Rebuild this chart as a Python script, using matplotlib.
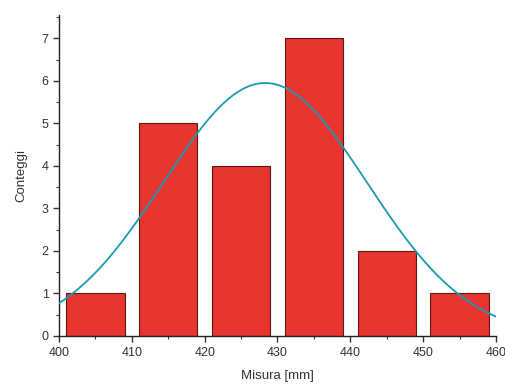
import numpy as np
import matplotlib.pyplot as plt
from matplotlib.ticker import MultipleLocator

plt.rcParams['font.family'] = ['Liberation Sans', 'DejaVu Sans']

# histogram data
bin_centers = [405, 415, 425, 435, 445, 455]
counts = [1, 5, 4, 7, 2, 1]

# gaussian fit parameters
fit_amp = 5.95
fit_mu = 428.3
fit_sigma = 14.0

fig = plt.figure(figsize=(5.05, 3.84), dpi=100)
ax = fig.add_axes([0.117, 0.125, 0.865, 0.836])

ax.bar(bin_centers, counts, width=8, color='#e8352f', edgecolor='#5a1a14', linewidth=0.8, zorder=2)

xs = np.linspace(400, 460, 300)
ys = fit_amp * np.exp(-(xs - fit_mu) ** 2 / (2 * fit_sigma ** 2))
ax.plot(xs, ys, color='#1a9bb0', linewidth=1.3, zorder=3)

ax.set_xlim(400, 460)
ax.set_ylim(0, 7.55)
ax.xaxis.set_major_locator(MultipleLocator(10))
ax.xaxis.set_minor_locator(MultipleLocator(5))
ax.yaxis.set_major_locator(MultipleLocator(1))
ax.yaxis.set_minor_locator(MultipleLocator(0.5))

for s in ['top', 'right']:
    ax.spines[s].set_visible(False)
for s in ['left', 'bottom']:
    ax.spines[s].set_linewidth(1.0)
    ax.spines[s].set_color('#222222')

ax.tick_params(which='major', direction='out', length=4, width=1, labelsize=9, colors='#333333')
ax.tick_params(axis='x', which='major', pad=4)
ax.tick_params(which='minor', direction='out', length=2.5, width=0.8, colors='#333333')

ax.set_xlabel('Misura [mm]', fontsize=9.5, color='#333333', labelpad=8)
ax.set_ylabel('Conteggi', fontsize=9.5, color='#333333', labelpad=10)

fig.savefig('out.png', dpi=100)
